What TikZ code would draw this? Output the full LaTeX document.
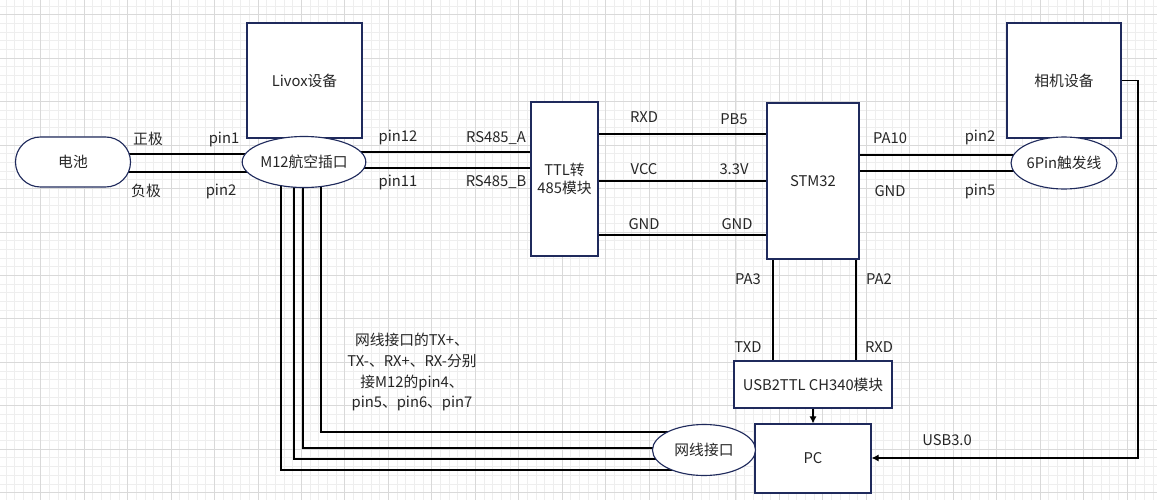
\documentclass[tikz,border=0pt]{standalone}
\usepackage{fontspec}
\setmainfont{Noto Sans CJK SC}
\usetikzlibrary{arrows.meta}
\usetikzlibrary{backgrounds}
\usetikzlibrary{shapes.geometric}
\definecolor{boxline}{HTML}{1F2A5C}
\definecolor{gridminor}{HTML}{EEEEEE}
\definecolor{gridmajor}{HTML}{D9D9D9}
\definecolor{textgray}{HTML}{262626}
\tikzset{>={Latex[length=5pt,width=5pt]}}
\tikzset{block/.style = {shape=rectangle,draw=boxline,fill=white,line width=0.8pt,inner sep=0pt,align=center,text=textgray}}
\tikzset{port/.style = {shape=ellipse,draw=boxline,fill=white,line width=0.8pt,inner sep=0pt,minimum width=2.575cm,minimum height=1.275cm,text=textgray}}
\tikzset{wire/.style = {line width=0.75pt,black}}
\tikzset{edge/.style = {->,line width=0.75pt,black}}
\tikzset{pinlabel/.style = {inner sep=0pt,text=textgray}}

\begin{document}
\begin{tikzpicture}[x=0.025cm,y=-0.025cm,font=\fontsize{10.5}{12.5}\selectfont]
            \useasboundingbox (0,0) rectangle (1157,500);

            % Grid
            \begin{scope}[on background layer]
            \fill[white] (0,0) rectangle (1157,500);
            \foreach \x in {6,14.69,...,1157} \draw[gridminor,line width=0.6pt] (\x,0) -- (\x,500);
            \foreach \y in {6,14.69,...,500} \draw[gridminor,line width=0.6pt] (0,\y) -- (1157,\y);
            \foreach \x in {40.7,84.15,...,1157} \draw[gridmajor,line width=0.6pt] (\x,0) -- (\x,500);
            \foreach \y in {14.7,58.15,...,500} \draw[gridmajor,line width=0.6pt] (0,\y) -- (1157,\y);
            \end{scope}

            % Vertices
            \node[block,rounded corners=0.625cm,minimum width=2.875cm,minimum height=1.25cm] (bat) at (73,162) {电池};
            \node[block,minimum width=2.875cm,minimum height=2.875cm] (livox) at (304.5,80.5) {Livox设备};
            \node[port] (m12) at (304,162) {M12航空插口};
            \node[block,minimum width=1.675cm,minimum height=3.85cm] (ttl) at (564.5,179) {TTL转\\485模块};
            \node[block,minimum width=2.3cm,minimum height=3.9cm] (stm) at (813,181) {STM32};
            \node[block,minimum width=2.85cm,minimum height=2.875cm] (cam) at (1064,80.5) {相机设备};
            \node[port,minimum height=1.3cm] (trig) at (1064,163) {6Pin触发线};
            \node[block,minimum width=3.95cm,minimum height=1.175cm] (usb) at (813,384.5) {USB2TTL CH340模块};
            \node[block,minimum width=2.9cm,minimum height=1.725cm] (pc) at (813,458.5) {PC};
            \node[port] (net) at (704,450) {网线接口};

            % Labels
            \node[pinlabel] (lpos) at (148,139) {正极};
            \node[pinlabel] (lpina) at (224,139) {pin1};
            \node[pinlabel] (lneg) at (146,191) {负极};
            \node[pinlabel] (lpinb) at (221,191) {pin2};
            \node[pinlabel] (lpinl) at (398,137) {pin12};
            \node[pinlabel] (lrsa) at (496,138) {RS485\_A};
            \node[pinlabel] (lpink) at (398,182) {pin11};
            \node[pinlabel] (lrsb) at (496,182) {RS485\_B};
            \node[pinlabel] (lrxd) at (644,117) {RXD};
            \node[pinlabel] (lpbf) at (734,119) {PB5};
            \node[pinlabel] (lvcc) at (644,169) {VCC};
            \node[pinlabel] (lvolt) at (734,169) {3.3V};
            \node[pinlabel] (lgnda) at (644,224) {GND};
            \node[pinlabel] (lgndb) at (737,224) {GND};
            \node[pinlabel] (lpat) at (890,138) {PA10};
            \node[pinlabel] (lpinc) at (980,137) {pin2};
            \node[pinlabel] (lgndc) at (890,191) {GND};
            \node[pinlabel] (lpind) at (980,191) {pin5};
            \node[pinlabel] (lpathree) at (748,279) {PA3};
            \node[pinlabel] (lpatwo) at (879,279) {PA2};
            \node[pinlabel] (ltxd) at (748,347) {TXD};
            \node[pinlabel] (lrxdb) at (879,347) {RXD};
            \node[pinlabel] (lusb) at (947,440) {USB3.0};
            \node[pinlabel,align=center,font=\fontsize{10.5}{14.9}\selectfont] (note) at (412,372)
                {网线接口的TX+、\\TX-、RX+、RX-分别\\接M12的pin4、\\pin5、pin6、pin7};

            % Edges
            \begin{scope}[on background layer]
            % battery
            \draw[wire] (bat.center |- 0,154) -- (m12.center |- 0,154);
            \draw[wire] (bat.center |- 0,172) -- (m12.center |- 0,172);

            % m12
            \draw[wire] (m12.center |- 0,152) -- (ttl.center |- 0,152);
            \draw[wire] (m12.center |- 0,168) -- (ttl.center |- 0,168);
            \draw[wire] (m12.center -| 281,0) |- (net.center |- 0,470);
            \draw[wire] (m12.center -| 294,0) |- (net.center |- 0,459);
            \draw[wire] (m12.center -| 303,0) |- (net.center |- 0,448);
            \draw[wire] (m12.center -| 321,0) |- (net.center |- 0,432);

            % ttl
            \draw[wire] (ttl.center |- 0,134) -- (stm.center |- 0,134);
            \draw[wire] (ttl.center |- 0,181) -- (stm.center |- 0,181);
            \draw[wire] (ttl.center |- 0,235) -- (stm.center |- 0,235);

            % stm32
            \draw[wire] (stm.center |- 0,155) -- (trig.center |- 0,155);
            \draw[wire] (stm.center |- 0,171) -- (trig.center |- 0,171);
            \draw[wire] (stm.center -| 773,0) -- (usb.center -| 773,0);
            \draw[wire] (stm.center -| 856,0) -- (usb.center -| 856,0);
            \end{scope}

            % usb2ttl
            \draw[edge] (usb) to (pc);

            % camera
            \draw[edge] (cam.east) -| (1138,458) -- (pc.east |- 0,458);
        \end{tikzpicture}
\end{document}
